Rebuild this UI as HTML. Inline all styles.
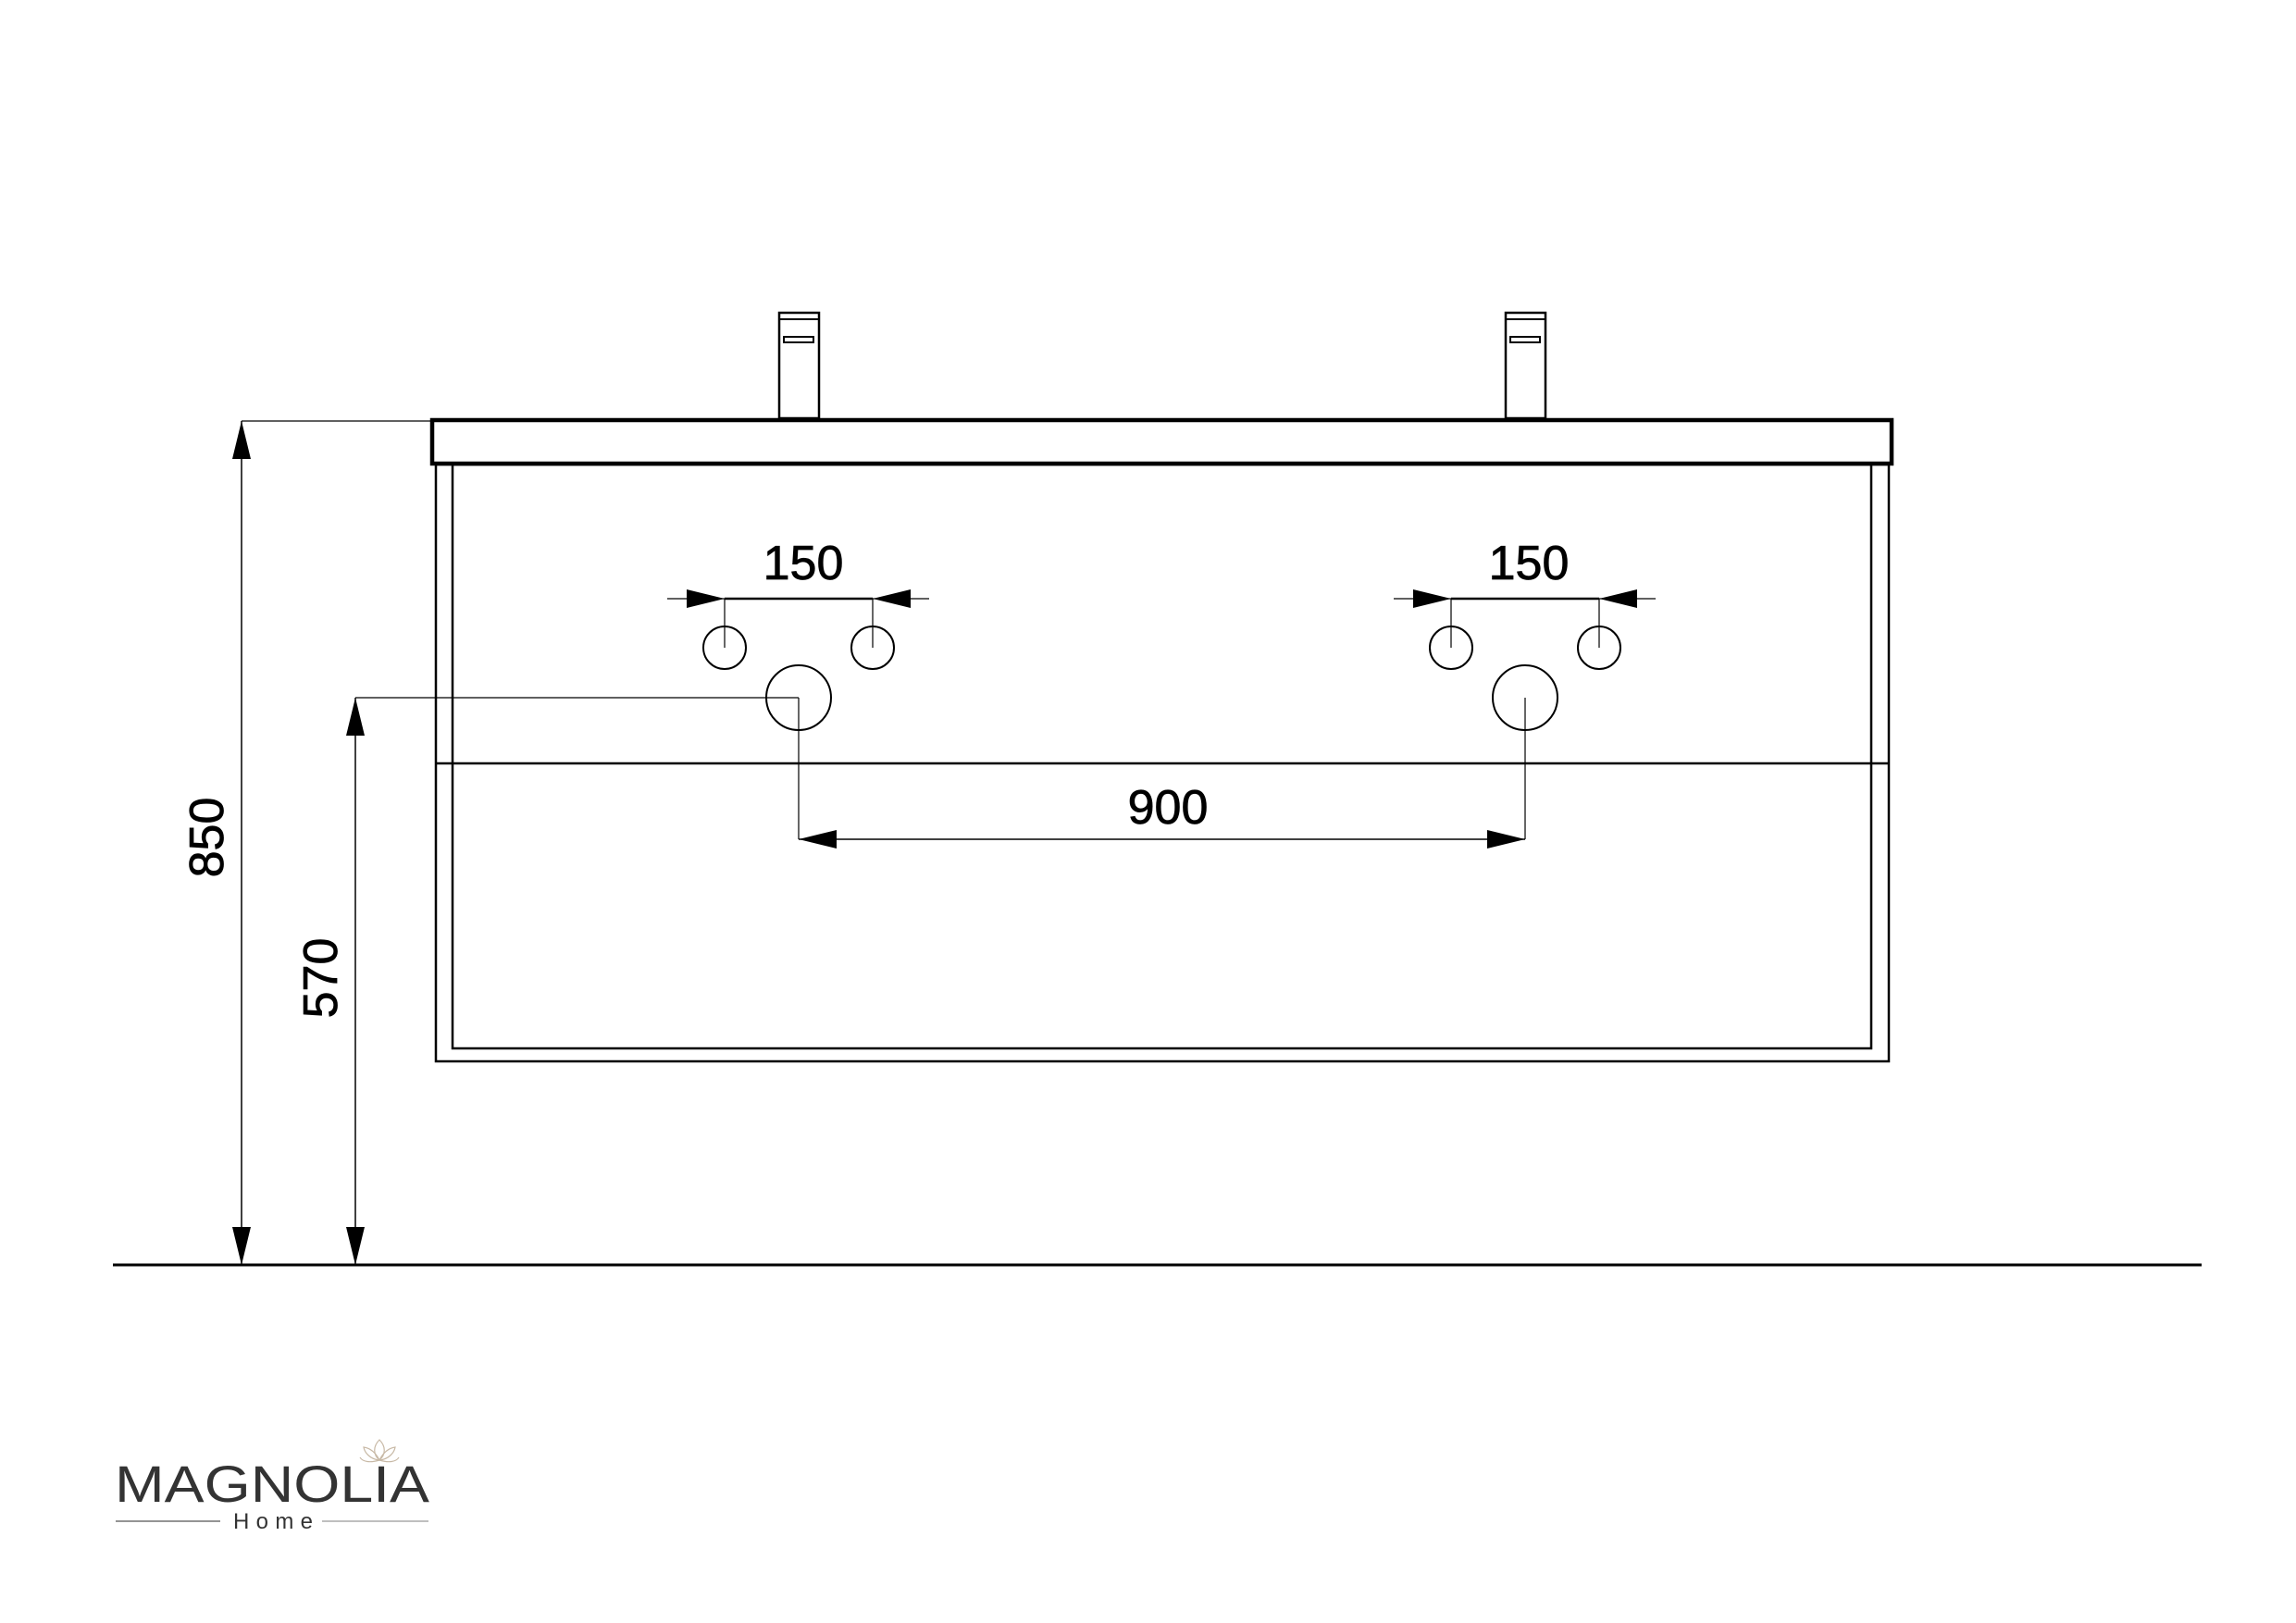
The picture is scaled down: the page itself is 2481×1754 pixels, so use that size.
<!DOCTYPE html>
<html><head><meta charset="utf-8"><style>
html,body{margin:0;padding:0;background:#fff;}
svg{display:block;}
</style></head><body>
<svg width="2481" height="1754" viewBox="0 0 2481 1754" xmlns="http://www.w3.org/2000/svg" font-family="Liberation Sans, Arial, sans-serif">
<rect width="2481" height="1754" fill="#fff"/>
<g stroke="#000" fill="none">
  <rect x="842" y="338" width="43" height="114" stroke-width="2.5"/>
  <line x1="842" y1="345" x2="885" y2="345" stroke-width="2"/>
  <rect x="847" y="364" width="32" height="6" stroke-width="2"/>
  <rect x="1627" y="338" width="43" height="114" stroke-width="2.5"/>
  <line x1="1627" y1="345" x2="1670" y2="345" stroke-width="2"/>
  <rect x="1632" y="364" width="32" height="6" stroke-width="2"/>
  <rect x="467" y="454" width="1577" height="47" stroke-width="4.5"/>
  <rect x="471" y="502" width="1570" height="645" stroke-width="2.5"/>
  <rect x="489" y="502" width="1533" height="631" stroke-width="2.5"/>
  <line x1="471" y1="825" x2="2041" y2="825" stroke-width="2.5"/>
  <circle cx="783" cy="700" r="23" stroke-width="2"/>
  <circle cx="943" cy="700" r="23" stroke-width="2"/>
  <circle cx="863" cy="754" r="35" stroke-width="2"/>
  <circle cx="1568" cy="700" r="23" stroke-width="2"/>
  <circle cx="1728" cy="700" r="23" stroke-width="2"/>
  <circle cx="1648" cy="754" r="35" stroke-width="2"/>
  <line x1="721" y1="647" x2="1004" y2="647" stroke-width="1.2"/>
  <line x1="783" y1="647" x2="943" y2="647" stroke-width="2.5"/>
  <line x1="783" y1="647" x2="783" y2="700" stroke-width="1.2"/>
  <line x1="943" y1="647" x2="943" y2="700" stroke-width="1.2"/>
  <line x1="1506" y1="647" x2="1789" y2="647" stroke-width="1.2"/>
  <line x1="1568" y1="647" x2="1728" y2="647" stroke-width="2.5"/>
  <line x1="1568" y1="647" x2="1568" y2="700" stroke-width="1.2"/>
  <line x1="1728" y1="647" x2="1728" y2="700" stroke-width="1.2"/>
  <line x1="863" y1="754" x2="863" y2="907" stroke-width="1.2"/>
  <line x1="1648" y1="754" x2="1648" y2="907" stroke-width="1.2"/>
  <line x1="863" y1="907" x2="1648" y2="907" stroke-width="1.5"/>
  <line x1="261" y1="455" x2="467" y2="455" stroke-width="1.2"/>
  <line x1="261" y1="455" x2="261" y2="1367" stroke-width="1.5"/>
  <line x1="384" y1="754" x2="863" y2="754" stroke-width="1.2"/>
  <line x1="384" y1="754" x2="384" y2="1367" stroke-width="1.5"/>
  <line x1="122" y1="1367" x2="2379" y2="1367" stroke-width="3"/>
</g>
<g fill="#000">
  <polygon points="742,637 783,647 742,657"/>
  <polygon points="984,637 943,647 984,657"/>
  <polygon points="1527,637 1568,647 1527,657"/>
  <polygon points="1769,637 1728,647 1769,657"/>
  <polygon points="904,897 863,907 904,917"/>
  <polygon points="1607,897 1648,907 1607,917"/>
  <polygon points="251,496 261,455 271,496"/>
  <polygon points="251,1326 261,1367 271,1326"/>
  <polygon points="374,795 384,754 394,795"/>
  <polygon points="374,1326 384,1367 394,1326"/>
</g>
<g font-size="52" fill="#000" text-anchor="middle" stroke="#000" stroke-width="0.8">
  <text x="868" y="626">150</text>
  <text x="1652" y="626">150</text>
  <text x="1262" y="890">900</text>
  <text transform="translate(241,905) rotate(-90)">850</text>
  <text transform="translate(364,1057) rotate(-90)">570</text>
</g>
<text x="124" y="1623" font-size="56" fill="#333" textLength="340" lengthAdjust="spacingAndGlyphs">MAGNOLIA</text>
<text x="252" y="1652" font-size="24" fill="#333" textLength="86" lengthAdjust="spacing">Home</text>
<line x1="125" y1="1644" x2="238" y2="1644" stroke="#555" stroke-width="1.2"/>
<line x1="348" y1="1644" x2="463" y2="1644" stroke="#999" stroke-width="1.2"/>
<g stroke="#c8b9a6" fill="none" stroke-width="1.2">
  <path d="M410,1556 C403,1563 403,1572 410,1578 C417,1572 417,1563 410,1556Z"/>
  <path d="M410,1578 C400,1577 394,1570 393,1564 C400,1565 406,1570 410,1578Z"/>
  <path d="M410,1578 C420,1577 426,1570 427,1564 C420,1565 414,1570 410,1578Z"/>
  <path d="M410,1578 C400,1581 392,1580 389,1575 M410,1578 C420,1581 428,1580 431,1575"/>
</g>
</svg>
</body></html>
